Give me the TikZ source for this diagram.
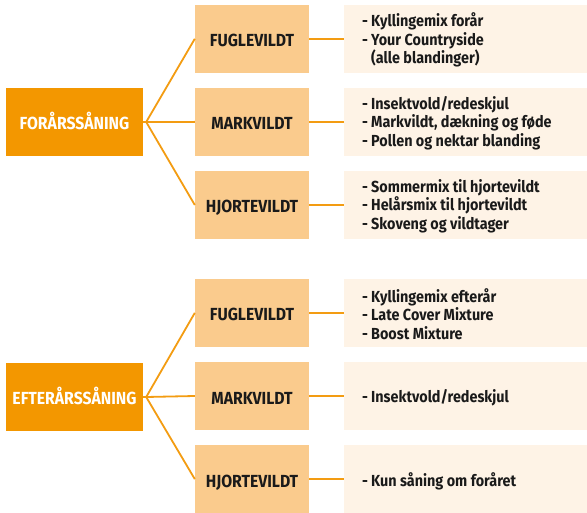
\documentclass[tikz,border=0pt]{standalone}
\usepackage{fontspec}
\setmainfont{Fira Sans}[FakeStretch=0.9]
\usepackage{xcolor}
\usepackage{tikz}
\usetikzlibrary{positioning}

\definecolor{saeddark}{HTML}{F39700}
\definecolor{saedmid}{HTML}{FACB8D}
\definecolor{saedlight}{HTML}{FEF3E6}
\definecolor{saedline}{HTML}{F39C12}
\definecolor{saedtext}{HTML}{1A1A1A}

\newcommand{\itm}[1]{\makebox[9pt][l]{-}#1}
\newcommand{\cont}[1]{\hspace*{9pt}#1}

\tikzset{
  seasonbox/.style={fill=saeddark, text=white, minimum width=137pt, minimum height=67.5pt,
    inner sep=0pt, text height=16pt, text depth=0pt, font=\bfseries\fontsize{17.5}{19}\selectfont},
  gamebox/.style={fill=saedmid, text=saedtext, minimum width=114pt, minimum height=67.7pt,
    inner sep=0pt, text height=16pt, text depth=0pt, font=\bfseries\fontsize{17.5}{19}\selectfont},
  mixbox/.style={fill=saedlight, minimum width=243pt, minimum height=67.7pt, inner sep=0pt},
  mixtext/.style={anchor=west, align=left, inner sep=0pt, text=saedtext,
    font=\bfseries\fontsize{16}{18.7}\selectfont},
  link/.style={draw=saedline, line width=1.8pt}
}

\begin{document}
\begin{tikzpicture}[x=1pt, y=-1pt]
 \useasboundingbox (0,0) rectangle (587,513);

 %seasons
 \node[seasonbox] (forar) at (74.5,122) {FORÅRSSÅNING};
 \node[seasonbox] (efter) at (74.5,397) {EFTERÅRSSÅNING};

 %game boxes and mix boxes
 \foreach \s/\y in {forar/38.8, efter/312.9} {
   \foreach \i/\name in {0/FUGLEVILDT, 1/MARKVILDT, 2/HJORTEVILDT} {
     \node[gamebox] (\s-g\i) at (252, \y+\i*83.1) {\name};
     \node[mixbox] (\s-m\i) at (465.5, \y+\i*83.1) {};
     \draw[link] (\s.east) -- ++(3,0) -- (\s-g\i.west);
     \draw[link] (\s-g\i.east) -- (\s-m\i.west);
   }
 }

 %mix lists
 \node[mixtext] (forar-t0) at (362,40) {\itm{Kyllingemix forår}\\ \itm{Your Countryside}\\ \cont{(alle blandinger)}};
 \node[mixtext] (forar-t1) at (362,123) {\itm{Insektvold/redeskjul}\\ \itm{Markvildt, dækning og føde}\\ \itm{Pollen og nektar blanding}};
 \node[mixtext] (forar-t2) at (362,206) {\itm{Sommermix til hjortevildt}\\ \itm{Helårsmix til hjortevildt}\\ \itm{Skoveng og vildtager}};

 \node[mixtext] (efter-t0) at (362,314) {\itm{Kyllingemix efterår}\\ \itm{Late Cover Mixture}\\ \itm{Boost Mixture}};
 \node[mixtext] (efter-t1) at (362,398) {\itm{Insektvold/redeskjul}};
 \node[mixtext] (efter-t2) at (362,481) {\itm{Kun såning om foråret}};
\end{tikzpicture}
\end{document}
